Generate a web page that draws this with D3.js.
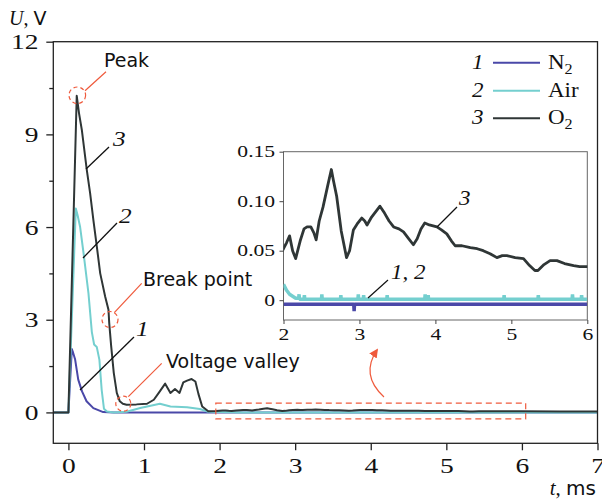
<!DOCTYPE html>
<html>
<head>
<meta charset="utf-8">
<script src="https://cdn.jsdelivr.net/npm/d3@7"></script>
<style>
  html, body { margin: 0; padding: 0; background: #fff; }
  svg { display: block; }
</style>
</head>
<body>
<svg id="chart" width="602" height="500"></svg>
<script>
// Discharge voltage U(t) for three gases; [t in ms, U in V]
const seriesN2 = [
  [-0.2, 0], [0, 0], [0.045, 2.05], [0.06, 1.95], [0.089, 1.71], [0.13, 1.06], [0.18, 0.68],
  [0.24, 0.36], [0.33, 0.14], [0.46, 0.01], [0.6, -0.004], [1.0, -0.004], [2.0, -0.004],
  [2.925, -0.004], [2.93, -0.011], [2.935, -0.004], [4.0, -0.004], [5.0, -0.004], [6.0, -0.004], [7.0, -0.004]
];
const seriesAir = [
  [-0.2, 0], [0, 0], [0.098, 6.6], [0.12, 6.4], [0.155, 6.0], [0.2, 5.16], [0.265, 3.86],
  [0.31, 2.6], [0.34, 2.2], [0.375, 2.12], [0.41, 1.7], [0.44, 0.73], [0.47, 0.12], [0.51, 0.03],
  [0.6, 0.0], [0.77, 0.02], [0.95, 0.14], [1.21, 0.28], [1.35, 0.19], [1.57, 0.17], [1.74, 0.11],
  [1.85, 0.02], [2.0, 0.016], [2.04, 0.01], [2.08, 0.006], [2.12, 0.004], [2.16, 0.002],
  [2.2, 0.002], [2.205, 0.006], [2.21, 0.001], [2.27, 0.001], [2.275, 0.005], [2.28, 0.001],
  [2.5, 0.001], [2.505, 0.006], [2.51, 0.001], [2.75, 0.001], [2.755, 0.005], [2.76, 0.001],
  [2.98, 0.001], [2.985, 0.006], [2.99, 0.001], [3.05, 0.001], [3.055, 0.005], [3.06, 0.001],
  [3.36, 0.001], [3.365, 0.005], [3.37, 0.001], [3.86, 0.001], [3.865, 0.006], [3.87, 0.001],
  [3.9, 0.001], [3.905, 0.005], [3.91, 0.001], [4.9, 0.001], [4.905, 0.005], [4.91, 0.001],
  [5.35, 0.001], [5.355, 0.005], [5.36, 0.001], [5.8, 0.001], [5.805, 0.006], [5.81, 0.001],
  [5.92, 0.001], [5.925, 0.005], [5.93, 0.001], [6.0, 0.001], [7.0, 0.0]
];
const seriesO2 = [
  [-0.2, 0], [0, 0], [0.11, 10.25], [0.14, 9.69], [0.177, 9.15], [0.243, 7.85], [0.287, 7.1],
  [0.33, 6.23], [0.376, 5.37], [0.42, 4.51], [0.486, 3.75], [0.53, 3.32], [0.54, 2.89],
  [0.566, 2.14], [0.6, 1.28], [0.64, 0.63], [0.68, 0.36], [0.72, 0.28], [0.77, 0.25],
  [0.9, 0.26], [1.04, 0.28], [1.13, 0.41], [1.2, 0.65], [1.28, 0.93], [1.35, 0.63],
  [1.41, 0.76], [1.47, 0.63], [1.52, 0.97], [1.57, 1.03], [1.63, 1.08], [1.68, 1.0],
  [1.72, 0.6], [1.77, 0.19], [1.85, 0.04], [1.95, 0.045],
  [2.0, 0.052], [2.04, 0.058], [2.08, 0.065], [2.12, 0.05], [2.16, 0.042], [2.22, 0.06],
  [2.27, 0.072], [2.31, 0.074], [2.36, 0.074], [2.4, 0.068], [2.43, 0.061], [2.47, 0.08],
  [2.52, 0.094], [2.58, 0.115], [2.63, 0.132], [2.66, 0.12], [2.70, 0.105], [2.76, 0.07],
  [2.83, 0.043], [2.87, 0.05], [2.92, 0.071], [2.97, 0.077], [3.03, 0.083], [3.07, 0.08],
  [3.10, 0.076], [3.16, 0.084], [3.22, 0.09], [3.27, 0.095], [3.33, 0.088], [3.39, 0.08],
  [3.45, 0.074], [3.52, 0.072], [3.58, 0.069], [3.65, 0.062], [3.71, 0.056], [3.76, 0.062],
  [3.81, 0.072], [3.86, 0.078], [3.92, 0.076], [4.02, 0.074], [4.08, 0.071], [4.15, 0.067],
  [4.21, 0.06], [4.26, 0.055], [4.35, 0.055], [4.46, 0.053], [4.55, 0.052], [4.63, 0.050],
  [4.72, 0.047], [4.81, 0.043], [4.88, 0.045], [4.94, 0.045], [5.05, 0.043], [5.16, 0.042],
  [5.24, 0.035], [5.31, 0.030], [5.35, 0.030], [5.43, 0.036], [5.51, 0.040], [5.6, 0.040],
  [5.7, 0.037], [5.82, 0.035], [5.9, 0.034], [5.99, 0.034], [6.5, 0.03], [7.0, 0.03]
];

const mainXTicks = [0, 1, 2, 3, 4, 5, 6, 7];
const mainYTicks = [0, 3, 6, 9, 12];
const mainYMinor = [1.5, 4.5, 7.5, 10.5];
const insetXTicks = [2, 3, 4, 5, 6];
const insetYTicks = [0, 0.05, 0.10, 0.15];

const legendItems = [
  { num: "1", name: "N", sub: "2", color: "#4a48a8" },
  { num: "2", name: "Air", sub: "", color: "#74cfcf" },
  { num: "3", name: "O", sub: "2", color: "#2f3636" }
];

const colN2 = "#4a48a8", colAir = "#74cfcf", colO2 = "#2f3636", red = "#ef5a3c";
const serif = "'Liberation Serif', 'Times New Roman', serif";
const sans = "'DejaVu Sans', sans-serif";

const svg = d3.select("#chart");

// serif text set in a wide face: stretched horizontally about its anchor point
function wideText(parent, px, py, sx, size, opts = {}) {
  const grp = parent.append("g").attr("transform", `translate(${px},${py}) scale(${sx},1)`);
  const t = grp.append("text").attr("font-family", serif).attr("font-size", size).attr("fill", "#111");
  if (opts.italic) t.attr("font-style", "italic");
  if (opts.anchor) t.attr("text-anchor", opts.anchor);
  return t;
}

// ---------- main panel ----------
const x = d3.scaleLinear().domain([-0.2, 7]).range([53.3, 597.5]);
const y = d3.scaleLinear().domain([-1, 12]).range([443.3, 41.7]);

svg.append("clipPath").attr("id", "mainClip").append("rect")
  .attr("x", x(-0.2)).attr("y", y(12)).attr("width", x(7) - x(-0.2)).attr("height", y(-1) - y(12));

const line = d3.line().x(d => x(d[0])).y(d => y(d[1]));
const g = svg.append("g").attr("clip-path", "url(#mainClip)");
[[seriesN2, colN2], [seriesAir, colAir], [seriesO2, colO2]].forEach(([s, c]) => {
  g.append("path").datum(s).attr("d", line).attr("fill", "none")
    .attr("stroke", c).attr("stroke-width", 2).attr("stroke-linejoin", "round");
});

// axes
svg.append("g").attr("class", "main-axis").attr("transform", `translate(${x(-0.2)},0)`)
  .call(d3.axisLeft(y).tickValues(mainYTicks).tickSize(7).tickPadding(4.8).tickFormat(d3.format("d")));
svg.append("g").attr("class", "main-axis").attr("transform", `translate(${x(-0.2)},0)`)
  .call(d3.axisLeft(y).tickValues(mainYMinor).tickSize(4).tickFormat(""));
svg.append("g").attr("class", "main-axis").attr("transform", `translate(0,${y(-1)})`)
  .call(d3.axisBottom(x).tickValues(mainXTicks).tickSize(7).tickPadding(7).tickFormat(d3.format("d")));
svg.selectAll(".main-axis .domain").remove();
svg.selectAll(".main-axis .tick line").attr("stroke", "#222").attr("stroke-width", 1.3);
svg.selectAll(".main-axis .tick text").attr("font-family", serif).attr("font-size", 22)
  .attr("fill", "#111").attr("transform", "scale(1.25,1)");

// frame
svg.append("rect").attr("x", x(-0.2)).attr("y", y(12))
  .attr("width", x(7) - x(-0.2)).attr("height", y(-1) - y(12))
  .attr("fill", "none").attr("stroke", "#222").attr("stroke-width", 1.3);

// axis titles
const ut = svg.append("text").attr("x", 9).attr("y", 25).attr("font-size", 20).attr("fill", "#111");
ut.append("tspan").attr("font-family", serif).attr("font-style", "italic").text("U");
ut.append("tspan").attr("font-family", serif).text(", ");
ut.append("tspan").attr("font-family", sans).attr("font-size", 19).text("V");
const tt = svg.append("text").attr("x", 596).attr("y", 495).attr("text-anchor", "end")
  .attr("font-size", 21).attr("fill", "#111");
tt.append("tspan").attr("font-family", serif).attr("font-style", "italic").text("t");
tt.append("tspan").attr("font-family", serif).text(", ");
tt.append("tspan").attr("font-family", sans).attr("font-size", 20).text("ms");

// ---------- legend ----------
const legendRowY = [62.7, 90.7, 118.3];
legendItems.forEach((it, i) => {
  const ly = legendRowY[i];
  wideText(svg, 472, ly + 6, 1.15, 20, { italic: true }).text(it.num);
  svg.append("line").attr("x1", 493).attr("x2", 540).attr("y1", ly).attr("y2", ly)
    .attr("stroke", it.color).attr("stroke-width", 2);
  const t = wideText(svg, 548, ly + 6, 1.15, 20).text(it.name);
  if (it.sub) t.append("tspan").attr("dy", 5).attr("font-size", 14).text(it.sub);
});

// ---------- annotations ----------
const ann = svg.append("g");
const circles = [
  { c: [77.3, 95.3], r: 8.3, l: [[85, 90.7], [106, 71.7]], label: "Peak", at: [104, 67] },
  { c: [110, 319.5], r: 8, l: [[114.3, 312.7], [141.7, 283.3]], label: "Break point", at: [143, 286] },
  { c: [123.3, 403.7], r: 7.5, l: [[128.3, 396.7], [161.7, 363.3]], label: "Voltage valley", at: [166, 368] }
];
circles.forEach(a => {
  ann.append("circle").attr("cx", a.c[0]).attr("cy", a.c[1]).attr("r", a.r)
    .attr("fill", "none").attr("stroke", red).attr("stroke-width", 1.2).attr("stroke-dasharray", "4,3");
  ann.append("line").attr("x1", a.l[0][0]).attr("y1", a.l[0][1]).attr("x2", a.l[1][0]).attr("y2", a.l[1][1])
    .attr("stroke", red).attr("stroke-width", 1.2);
  ann.append("text").attr("x", a.at[0]).attr("y", a.at[1]).attr("font-family", sans)
    .attr("font-size", 19).attr("fill", "#111").text(a.label);
});

// zoom window on the main panel
ann.append("rect").attr("x", x(1.95)).attr("y", y(0.3))
  .attr("width", x(6.05) - x(1.95)).attr("height", y(-0.21) - y(0.3))
  .attr("fill", "none").attr("stroke", red).attr("stroke-width", 1.2).attr("stroke-dasharray", "6,4");

// curved arrow towards the inset
svg.append("defs").append("marker").attr("id", "arrowHead").attr("viewBox", "0 0 10 10")
  .attr("refX", 8).attr("refY", 5).attr("markerWidth", 9).attr("markerHeight", 9)
  .attr("orient", "auto").attr("markerUnits", "userSpaceOnUse")
  .append("path").attr("d", "M0,0 L10,5 L0,10 Z").attr("fill", red);
ann.append("path").attr("d", "M384,397 Q360,375 377,350").attr("fill", "none")
  .attr("stroke", red).attr("stroke-width", 1.2).attr("marker-end", "url(#arrowHead)");

// curve labels on the main panel
const numLabels = [
  { n: "3", at: [113, 146], l: [[109, 147], [86, 169]] },
  { n: "2", at: [119, 223], l: [[117, 223], [83, 258]] },
  { n: "1", at: [136, 336], l: [[134, 337], [80, 390]] }
];
numLabels.forEach(a => {
  svg.append("line").attr("x1", a.l[0][0]).attr("y1", a.l[0][1]).attr("x2", a.l[1][0]).attr("y2", a.l[1][1])
    .attr("stroke", "#111").attr("stroke-width", 1.3);
  wideText(svg, a.at[0], a.at[1], 1.15, 22, { italic: true }).text(a.n);
});

// ---------- inset ----------
const ix = d3.scaleLinear().domain([2, 6]).range([283.5, 587.3]);
const iy = d3.scaleLinear().domain([-0.02, 0.15]).range([320, 151.7]);

svg.append("rect").attr("x", ix(2)).attr("y", iy(0.15))
  .attr("width", ix(6) - ix(2)).attr("height", iy(-0.02) - iy(0.15))
  .attr("fill", "#fff").attr("stroke", "#666").attr("stroke-width", 1);

svg.append("clipPath").attr("id", "insetClip").append("rect")
  .attr("x", ix(2)).attr("y", iy(0.15)).attr("width", ix(6) - ix(2)).attr("height", iy(-0.02) - iy(0.15));

const iline = d3.line().x(d => ix(d[0])).y(d => iy(d[1]));
const ig = svg.append("g").attr("clip-path", "url(#insetClip)");
const inWin = s => s.filter(d => d[0] >= 1.9 && d[0] <= 6.5);
ig.append("path").datum(inWin(seriesN2)).attr("d", iline).attr("fill", "none")
  .attr("stroke", colN2).attr("stroke-width", 3.5).attr("stroke-linejoin", "bevel");
ig.append("path").datum(inWin(seriesAir)).attr("d", iline).attr("fill", "none")
  .attr("stroke", colAir).attr("stroke-width", 3.5).attr("stroke-linejoin", "bevel");
ig.append("path").datum(inWin(seriesO2)).attr("d", iline).attr("fill", "none")
  .attr("stroke", colO2).attr("stroke-width", 2.8).attr("stroke-linejoin", "round");

svg.append("g").attr("class", "inset-axis").attr("transform", `translate(${ix(2)},0)`)
  .call(d3.axisLeft(iy).tickValues(insetYTicks).tickSize(4).tickPadding(2.2)
    .tickFormat(d => d === 0 ? "0" : d.toFixed(2)));
svg.append("g").attr("class", "inset-axis").attr("transform", `translate(0,${iy(-0.02)})`)
  .call(d3.axisBottom(ix).tickValues(insetXTicks).tickSize(4).tickPadding(5).tickFormat(d3.format("d")));
svg.selectAll(".inset-axis .domain").remove();
svg.selectAll(".inset-axis .tick line").attr("stroke", "#444").attr("stroke-width", 1);
svg.selectAll(".inset-axis .tick text").attr("font-family", serif).attr("font-size", 16)
  .attr("fill", "#111").attr("transform", "scale(1.35,1)");

// inset curve labels
const insetLabels = [
  { n: "3", at: [459, 205], l: [[457, 207], [437, 227]] },
  { n: "1, 2", at: [391, 279], l: [[388, 280], [368, 298]] }
];
insetLabels.forEach(a => {
  svg.append("line").attr("x1", a.l[0][0]).attr("y1", a.l[0][1]).attr("x2", a.l[1][0]).attr("y2", a.l[1][1])
    .attr("stroke", "#111").attr("stroke-width", 1.2);
  wideText(svg, a.at[0], a.at[1], 1.15, 20, { italic: true }).text(a.n);
});
</script>
</body>
</html>
